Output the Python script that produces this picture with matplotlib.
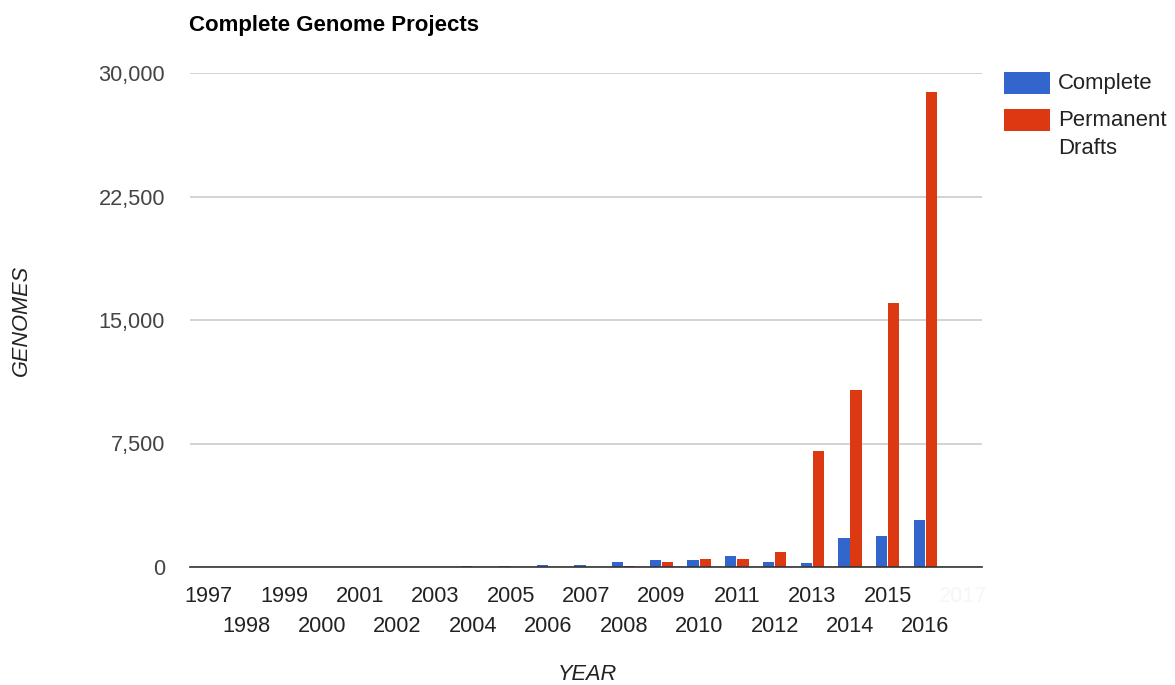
import matplotlib.pyplot as plt
from matplotlib.patches import Rectangle
import numpy as np

plt.rcParams['font.family'] = ['Liberation Sans', 'DejaVu Sans']

# data
years = [str(y) for y in range(1997, 2018)]
complete = [5, 8, 10, 12, 15, 20, 25, 40, 60, 110, 120, 300, 410, 410, 690, 300, 230, 1780, 1880, 2850, 0]
drafts = [0, 0, 0, 0, 0, 0, 0, 0, 0, 0, 0, 80, 300, 500, 500, 890, 7050, 10750, 16030, 28850, 0]
yticks = [0, 7500, 15000, 22500, 30000]

BLUE = '#3366cc'
RED = '#dc3912'
H = 685

fig = plt.figure(figsize=(11.75, 6.85), dpi=100)
ax = fig.add_axes([190/1175, 1-567/H, (982-190)/1175, (567-73)/H])

x = np.arange(len(years))
w = 0.3
ax.bar(x - 0.16, complete, width=w, color=BLUE, zorder=3)
ax.bar(x + 0.16, drafts, width=w, color=RED, zorder=3)

ax.set_xlim(-0.5, len(years) - 0.5)
ax.set_ylim(0, 30000)
ax.set_yticks(yticks)
ax.set_yticklabels([f'{v:,}' for v in yticks], fontsize=15.7, color='#444444')
ax.yaxis.grid(True, color='#cccccc', linewidth=1.2, zorder=0)
ax.tick_params(axis='both', which='both', length=0)
ax.tick_params(axis='y', pad=18)

# two staggered rows of year labels
ax.set_xticks(x[::2])
ax.set_xticklabels(years[::2], fontsize=15.7, color='#222222')
ax.set_xticks(x[1::2], minor=True)
ax.set_xticklabels(years[1::2], minor=True, fontsize=15.7, color='#222222')
ax.tick_params(axis='x', which='major', pad=14)
ax.tick_params(axis='x', which='minor', pad=35.5)
ax.get_xticklabels()[-1].set_color('#f6f6f6')

for s in ['left', 'right', 'top']:
    ax.spines[s].set_visible(False)
ax.spines['bottom'].set_color('#333333')
ax.spines['bottom'].set_linewidth(1.2)
ax.spines['bottom'].set_zorder(4)

fig.text(189/1175, 1-31.5/H, 'Complete Genome Projects', fontsize=16, fontweight='bold',
         va='baseline', ha='left', color='#000000')
fig.text(21/1175, 1-320/H, 'GENOMES', fontsize=15.7, style='italic', rotation=90,
         va='center', ha='center', color='#222222')
fig.text(587/1175, 1-680/H, 'YEAR', fontsize=15.7, style='italic',
         va='baseline', ha='center', color='#222222')

# legend
fig.add_artist(Rectangle((1004/1175, 1-94/H), 46/1175, 22/H,
                         transform=fig.transFigure, facecolor=BLUE, edgecolor='none'))
fig.add_artist(Rectangle((1004/1175, 1-131/H), 46/1175, 22/H,
                         transform=fig.transFigure, facecolor=RED, edgecolor='none'))
for yb, lab in [(89.5, 'Complete'), (126, 'Permanent'), (154, 'Drafts')]:
    fig.text(1058/1175, 1-yb/H, lab, fontsize=15.9, va='baseline', ha='left', color='#222222')

fig.savefig('out.png', dpi=100)
